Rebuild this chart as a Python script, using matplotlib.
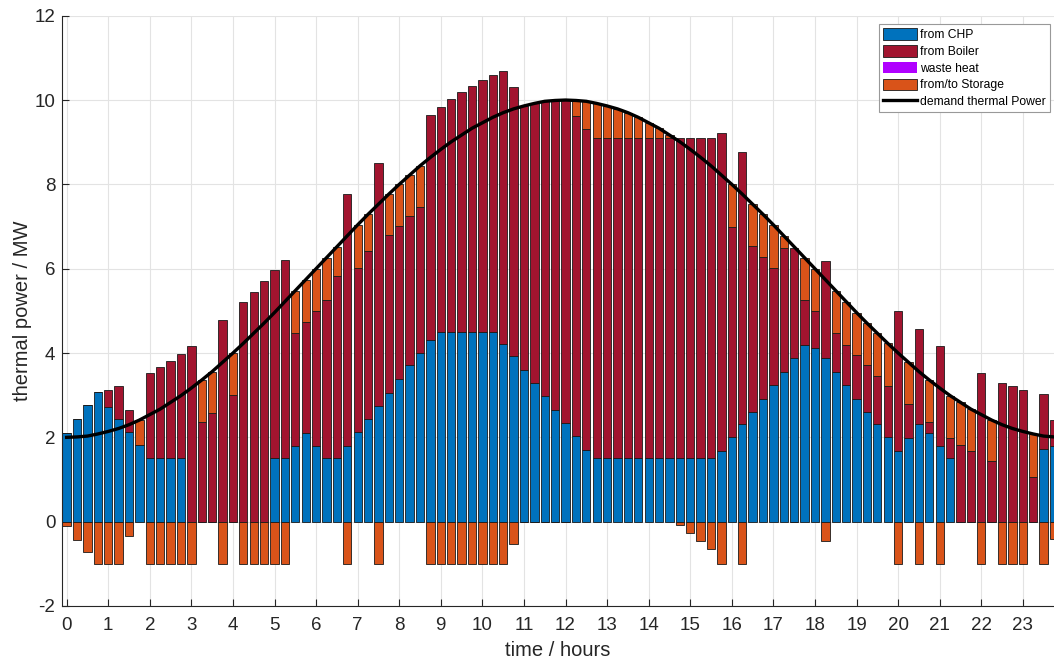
import numpy as np
import matplotlib
matplotlib.use("Agg")
import matplotlib.pyplot as plt

plt.rcParams['font.family'] = ['Liberation Sans', 'DejaVu Sans']
plt.rcParams['axes.unicode_minus'] = False

# quarter-hour values, MW
chp = [2.11, 2.43, 2.76, 3.07, 2.73, 2.43, 2.12, 1.82, 1.5, 1.5, 1.5, 1.5, 0, 0, 0, 0,
       0, 0, 0, 0, 1.5, 1.5, 1.80, 2.11, 1.80, 1.5, 1.5, 1.80, 2.12, 2.43, 2.74, 3.06,
       3.38, 3.71, 4.01, 4.31, 4.5, 4.5, 4.5, 4.5, 4.5, 4.5, 4.22, 3.92, 3.60, 3.29, 2.97, 2.65,
       2.33, 2.02, 1.70, 1.5, 1.5, 1.5, 1.5, 1.5, 1.5, 1.5, 1.5, 1.5, 1.5, 1.5, 1.5, 1.67,
       2.0, 2.31, 2.61, 2.92, 3.23, 3.55, 3.88, 4.19, 4.11, 3.88, 3.55, 3.23, 2.92, 2.61, 2.31, 2.0,
       1.67, 1.98, 2.31, 2.11, 1.80, 1.5, 0, 0, 0, 0, 0, 0, 0, 0, 1.72, 1.80]

boiler = [0, 0, 0, 0, 0.40, 0.78, 0.52, 0, 2.02, 2.17, 2.32, 2.47, 4.17, 2.37, 2.57, 4.78,
          3.00, 5.21, 5.45, 5.70, 4.46, 4.71, 2.67, 2.62, 3.19, 3.75, 4.32, 5.96, 3.90, 4.00, 5.77, 3.73,
          3.63, 3.54, 3.45, 5.34, 5.34, 5.53, 5.68, 5.83, 5.97, 6.10, 6.48, 6.39, 6.26, 6.63, 7.00, 7.34,
          7.67, 7.60, 7.61, 7.59, 7.59, 7.59, 7.59, 7.59, 7.59, 7.59, 7.59, 7.59, 7.59, 7.59, 7.59, 7.54,
          4.98, 6.45, 3.92, 3.35, 2.79, 2.95, 2.62, 1.06, 0.88, 2.31, 0.92, 0.97, 1.04, 1.10, 1.14, 1.22,
          3.32, 0.80, 2.25, 0.26, 2.36, 0.48, 1.82, 1.67, 3.52, 1.43, 3.29, 3.21, 3.13, 1.06, 1.30, 0.61]

waste = [0] * 96

storage = [-0.11, -0.43, -0.72, -1, -1, -1, -0.33, 0.59, -1, -1, -1, -1, -1, 0.99, 0.99, -1,
           1.0, -1, -1, -1, -1, -1, 1.01, 1.01, 1.01, 1.01, 0.70, -1, 1.02, 0.86, -1, 0.98,
           0.99, 0.97, 0.98, -1, -1, -1, -1, -1, -1, -1, -1, -0.53, 0, 0, 0, 0,
           0, 0.37, 0.66, 0.83, 0.77, 0.70, 0.61, 0.50, 0.37, 0.24, 0.08, -0.08, -0.26, -0.45, -0.65, -1,
           1.02, -1, 1.0, 1.02, 1.02, 0.28, 0, 1.01, 1.01, -0.47, 1.01, 1.02, 1.0, 1.0, 1.02, 1.01,
           -1, 1.0, -1, 0.99, -1, 1.01, 1.01, 1.0, -1, 0.98, -1, -1, -1, 1.02, -1, -0.42]

demand = [2.00, 2.01, 2.03, 2.08, 2.14, 2.21, 2.30, 2.41, 2.54, 2.67, 2.83, 2.99, 3.17, 3.36, 3.56, 3.78,
          4.00, 4.23, 4.47, 4.71, 4.96, 5.22, 5.48, 5.74, 6.00, 6.26, 6.52, 6.78, 7.04, 7.29, 7.53, 7.77,
          8.00, 8.22, 8.44, 8.64, 8.83, 9.01, 9.17, 9.33, 9.46, 9.59, 9.70, 9.79, 9.86, 9.92, 9.97, 9.99,
          10.00, 9.99, 9.97, 9.92, 9.86, 9.79, 9.70, 9.59, 9.46, 9.33, 9.17, 9.01, 8.83, 8.64, 8.44, 8.22,
          8.00, 7.77, 7.53, 7.29, 7.04, 6.78, 6.52, 6.26, 6.00, 5.74, 5.48, 5.22, 4.96, 4.71, 4.47, 4.23,
          4.00, 3.78, 3.56, 3.36, 3.17, 2.99, 2.83, 2.67, 2.54, 2.41, 2.30, 2.21, 2.14, 2.08, 2.03, 2.01, 2.00]

t = np.arange(len(chp)) * 0.25
t_dem = np.arange(len(demand)) * 0.25

chp = np.array(chp)
boiler = np.array(boiler)
waste = np.array(waste)
storage = np.array(storage)

fig = plt.figure(figsize=(10.54, 6.66), dpi=100)
ax = fig.add_axes([0.0591, 0.0901, 0.9409, 0.8863])

w = 0.2
ec = '#1a1a1a'
lw = 0.6
h1 = ax.bar(t, chp, w, color='#0072BD', edgecolor=ec, linewidth=lw, label='from CHP', zorder=2)
h2 = ax.bar(t, boiler, w, bottom=chp, color='#A2142F', edgecolor=ec, linewidth=lw, label='from Boiler', zorder=2)
h3 = ax.bar(t, waste, w, bottom=chp + boiler, color='#B000FF', edgecolor=ec, linewidth=0, label='waste heat', zorder=2)
# storage: discharging stacks on top, charging hangs below zero
st_bottom = np.where(storage > 0, chp + boiler + waste, 0)
h4 = ax.bar(t, storage, w, bottom=st_bottom, color='#D95319', edgecolor=ec, linewidth=lw, label='from/to Storage', zorder=2)

h5, = ax.plot(t_dem, demand, color='black', linewidth=2.4, label='demand thermal Power', zorder=3)

ax.set_xlim(-0.105, 23.75)
ax.set_ylim(-2, 12)
ax.set_xticks(range(0, 24))
ax.set_yticks(range(-2, 13, 2))
ax.grid(True, color='#e3e3e3', linewidth=0.8, zorder=0)
ax.set_axisbelow(True)
ax.tick_params(direction='in', length=5, width=0.8, labelsize=13.5, colors='#262626')
ax.tick_params(axis='x', pad=8)
ax.tick_params(axis='y', pad=5)
for s in ['top', 'right']:
    ax.spines[s].set_visible(False)
for s in ['left', 'bottom']:
    ax.spines[s].set_color('#262626')
    ax.spines[s].set_linewidth(0.8)

ax.set_xlabel('time / hours', fontsize=14.5, color='#262626', labelpad=5)
ax.set_ylabel('thermal power / MW', fontsize=14.5, color='#262626', labelpad=2)

leg = ax.legend(handles=[h1, h2, h3, h4, h5], loc='upper right', bbox_to_anchor=(0.996, 0.986),
                borderaxespad=0, fontsize=8.7, fancybox=False, framealpha=1, edgecolor='#999999',
                handlelength=2.8, handleheight=1.1, handletextpad=0.25,
                labelspacing=0.32, borderpad=0.35)
leg.get_frame().set_linewidth(0.8)

fig.savefig('out.png', dpi=100)
